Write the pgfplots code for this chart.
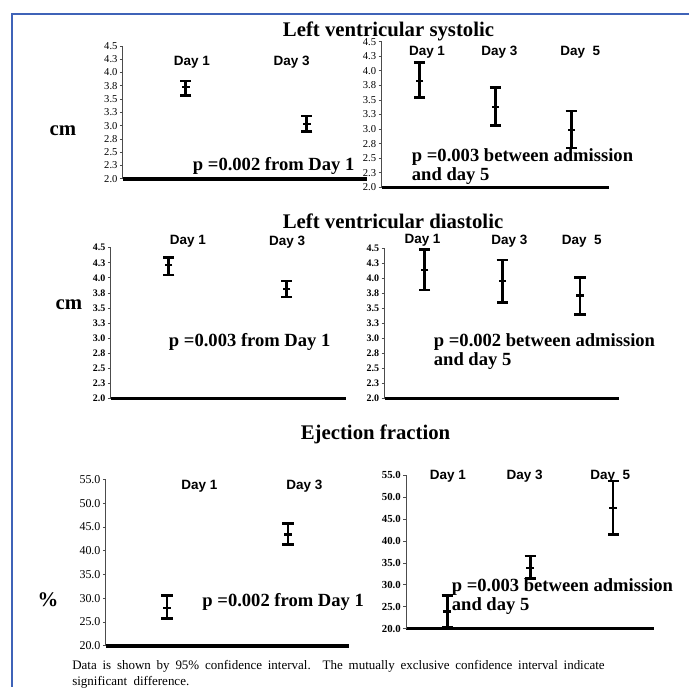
\documentclass[border=0pt]{standalone}
\usepackage{pgfplots}
\pgfplotsset{compat=1.18}
\usepackage{fontspec}
\setmainfont{Liberation Serif}
\newfontfamily\arial{Liberation Sans}
\definecolor{frameblue}{HTML}{3F63B8}

\pgfplotsset{
  panel/.style={
    scale only axis, anchor=south west, axis lines*=left, clip=false,
    xtick=\empty, tick align=outside, major tick length=1.5pt,
    x axis line style={line width=1.8pt},
    y axis line style={line width=0.5pt, black!70},
    ytick style={line width=0.4pt, black!70},
    yticklabel style={inner sep=1pt},
  },
  cmticks/.style={ytick={2,2.25,...,4.5},
    yticklabels={2.0,2.3,2.5,2.8,3.0,3.3,3.5,3.8,4.0,4.3,4.5}, ymin=2, ymax=4.5},
  efticks/.style={ytick={20,25,...,55},
    yticklabels={20.0,25.0,30.0,35.0,40.0,45.0,50.0,55.0}, ymin=20, ymax=55},
  ci/.style={black, only marks, mark=-, mark size=1.9pt, mark options={line width=1.1pt},
    error bars/.cd, y dir=both, y explicit,
    error bar style={line width=1.3pt},
    error mark options={rotate=90, line width=1.3pt, mark size=2.8pt}},
}

\begin{document}
\begin{tikzpicture}
\path (0,0) rectangle (345pt,-344pt);

% Left ventricular systolic, two measurements
\begin{axis}[panel, cmticks, at={(61.5pt,-89.5pt)}, width=122pt, height=66.5pt,
  xmin=-0.04, xmax=3.99, yticklabel style={font=\fontsize{5.3}{6}\selectfont}]
\addplot[ci] table[x=day, y=m, y error plus=ep, y error minus=em] {
day m    ep   em
1   3.72 0.12 0.15
3   3.03 0.15 0.14
};
\end{axis}

% Left ventricular systolic, three measurements
\begin{axis}[panel, cmticks, at={(191pt,-93.85pt)}, width=114pt, height=73pt,
  xmin=0, xmax=6, yticklabel style={font=\fontsize{5.3}{6}\selectfont}]
\addplot[ci] table[x=day, y=m, y error plus=ep, y error minus=em] {
day m    ep   em
1   3.83 0.31 0.29
3   3.38 0.33 0.32
5   2.99 0.32 0.31
};
\end{axis}

% Left ventricular diastolic, two measurements
\begin{axis}[panel, cmticks, at={(55.5pt,-199.5pt)}, width=117.5pt, height=75.5pt,
  xmin=0.02, xmax=4, yticklabel style={font=\bfseries\fontsize{5}{6}\selectfont}]
\addplot[ci] table[x=day, y=m, y error plus=ep, y error minus=em] {
day m    ep   em
1   4.21 0.13 0.16
3   3.82 0.13 0.14
};
\end{axis}

% Left ventricular diastolic, three measurements
\begin{axis}[panel, cmticks, at={(192.5pt,-199.5pt)}, width=117.5pt, height=75.35pt,
  xmin=-0.03, xmax=6.01, yticklabel style={font=\bfseries\fontsize{5}{6}\selectfont}]
\addplot[ci] table[x=day, y=m, y error plus=ep, y error minus=em] {
day m    ep   em
1   4.14 0.34 0.34
3   3.95 0.35 0.35
5   3.71 0.30 0.31
};
\end{axis}

% Ejection fraction, two measurements
\begin{axis}[panel, efticks, at={(53pt,-323.25pt)}, width=121.75pt, height=83.25pt,
  xmin=-0.01, xmax=4.01, yticklabel style={font=\fontsize{6}{7}\selectfont}]
\addplot[ci] table[x=day, y=m, y error plus=ep, y error minus=em] {
day m    ep  em
1   28.0 2.6 2.3
3   43.4 2.3 2.1
};
\end{axis}

% Ejection fraction, three measurements
\begin{axis}[panel, efticks, at={(203.35pt,-314.65pt)}, width=124.15pt, height=76.65pt,
  xmin=0.01, xmax=5.99, yticklabel style={font=\bfseries\fontsize{5.4}{6}\selectfont}]
\addplot[ci] table[x=day, y=m, y error plus=ep, y error minus=em] {
day m    ep  em
1   23.9 3.7 3.6
3   33.9 2.7 2.4
5   47.6 6.1 6.1
};
\end{axis}

\begin{scope}[x=0.5pt, y=-0.5pt]
\draw[frameblue, line width=0.8pt] (690,14) -- (12,14) -- (12,688);

\tikzset{ttl/.style={font=\bfseries\fontsize{10.4}{12}\selectfont, inner sep=0pt},
  day/.style={font=\arial\bfseries\fontsize{6.75}{8}\selectfont, inner sep=0pt},
  pv/.style={font=\bfseries\fontsize{9.3}{10.5}\selectfont, inner sep=0pt}}

\node[ttl] at (389,31) {Left ventricular systolic};
\node[ttl] at (393.5,222) {Left ventricular diastolic};
\node[ttl] at (376,435) {Ejection fraction};
\node[ttl] at (63,131) {cm};
\node[ttl] at (69,305) {cm};
\node[ttl] at (48,600) {\%};

\node[day] at (192,62) {Day 1};
\node[day] at (292,62) {Day 3};
\node[day] at (427.5,52) {Day 1};
\node[day] at (500,52) {Day 3};
\node[day] at (581,52) {Day\ \ 5};
\node[day] at (188,242) {Day 1};
\node[day] at (287.5,242) {Day 3};
\node[day] at (423,241) {Day 1};
\node[day] at (510,241.5) {Day 3};
\node[day] at (582.5,241.5) {Day\ \ 5};
\node[day] at (199.7,487) {Day 1};
\node[day] at (304.7,487) {Day 3};
\node[day] at (448.3,477) {Day 1};
\node[day] at (525.3,477) {Day 3};
\node[day] at (611,477) {Day\ \ 5};

\node[pv] at (274,166) {p =0.002 from Day 1};
\node[pv, anchor=west] at (412,157) {p =0.003 between admission};
\node[pv, anchor=west] at (412,176) {and day 5};
\node[pv] at (250,342) {p =0.003 from Day 1};
\node[pv, anchor=west] at (434,342) {p =0.002 between admission};
\node[pv, anchor=west] at (434,361) {and day 5};
\node[pv] at (283.5,603) {p =0.002 from Day 1};
\node[pv, anchor=west] at (452,588) {p =0.003 between admission};
\node[pv, anchor=west] at (452,607) {and day 5};

\node[anchor=west, inner sep=0pt, font=\fontsize{6.5}{8}\selectfont] at (72,667)
  {\makebox[266.5pt][s]{Data is shown by 95\% confidence interval. The mutually exclusive confidence interval indicate}};
\node[anchor=west, inner sep=0pt, font=\fontsize{6.5}{8}\selectfont] at (72,683)
  {significant\ \ difference.};
\end{scope}
\end{tikzpicture}
\end{document}
